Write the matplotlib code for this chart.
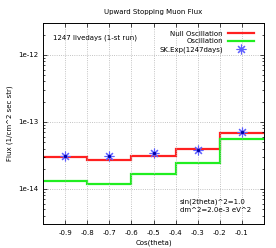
import matplotlib
matplotlib.use("Agg")
import matplotlib.pyplot as plt
import numpy as np
from matplotlib.ticker import LogLocator, NullFormatter, FixedLocator

bin_edges = [-1.0, -0.8, -0.6, -0.4, -0.2, 0.0]
null_osc = [3.0e-14, 2.68e-14, 3.05e-14, 4.0e-14, 6.85e-14]
osc = [1.3e-14, 1.17e-14, 1.65e-14, 2.42e-14, 5.6e-14]
data_x = [-0.9, -0.7, -0.5, -0.3, -0.1]
data_y = [3.1e-14, 3.1e-14, 3.45e-14, 3.75e-14, 7.1e-14]
xticks = [-0.9, -0.8, -0.7, -0.6, -0.5, -0.4, -0.3, -0.2, -0.1]

plt.rcParams['font.family'] = ['DejaVu Sans']
fs = 5.0
fig = plt.figure(figsize=(2.76, 2.48), dpi=100)
ax = fig.add_axes([43/276, 1-224/248, 221/276, (224-22.7)/248])

ax.stairs(null_osc, bin_edges, color='#ff2020', lw=1.6, label='Null Oscillation', baseline=None)
ax.stairs(osc, bin_edges, color='#20ee20', lw=1.6, label='Oscillation', baseline=None)
ax.plot(data_x, data_y, linestyle='none', marker=(8, 2, 0), ms=7, mew=0.8,
        color='#6060ff', label='SK.Exp(1247days)')
ax.plot(data_x, data_y, linestyle='none', marker='s', ms=1.2, color='#0000aa')

ax.set_yscale('log')
ax.set_xlim(-1.0, 0.0)
ax.set_ylim(3e-15, 3e-12)
ax.xaxis.set_major_locator(FixedLocator(xticks))
ax.set_xticklabels(['%.1f' % v for v in xticks])
ax.yaxis.set_major_locator(FixedLocator([1e-14, 1e-13, 1e-12]))
ax.set_yticklabels(['1e-14', '1e-13', '1e-12'])
ax.yaxis.set_minor_locator(LogLocator(base=10, subs=np.arange(2, 10)))
ax.yaxis.set_minor_formatter(NullFormatter())
ax.tick_params(which='both', direction='in', top=True, right=True, labelsize=fs, length=3, width=0.5)
ax.tick_params(axis='x', pad=4)
ax.tick_params(axis='y', pad=3)
ax.tick_params(which='minor', length=1.5)
ax.grid(True, which='major', color='#b0b0b0', linestyle=':', lw=0.6)
for s in ax.spines.values():
    s.set_linewidth(0.7)

ax.set_title('Upward Stopping Muon Flux', fontsize=fs, pad=6.5)
ax.set_xlabel('Cos(theta)', fontsize=fs, labelpad=3)
ax.set_ylabel('Flux (1/cm^2 sec str)', fontsize=fs, labelpad=4)

ax.text(0.045, 0.94, '1247 livedays (1-st run)', transform=ax.transAxes, fontsize=fs, va='top', ha='left')
ax.text(0.62, 0.125, 'sin(2theta)^2=1.0\ndm^2=2.0e-3 eV^2', transform=ax.transAxes, fontsize=fs, va='top', ha='left', linespacing=1.35)

leg = ax.legend(loc='upper right', bbox_to_anchor=(0.955, 0.96), fontsize=fs, frameon=False, markerfirst=False,
                handlelength=3.8, borderaxespad=0, borderpad=0, labelspacing=0.25, handletextpad=0.7)
for t in leg.get_texts():
    t.set_ha('right')

fig.savefig('out.png', dpi=100)
